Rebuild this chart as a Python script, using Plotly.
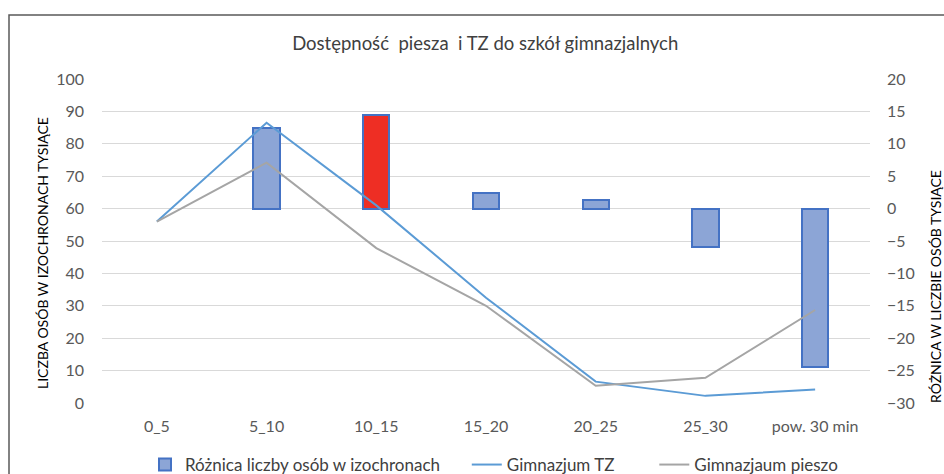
import plotly.graph_objects as go

categories = ["0_5", "5_10", "10_15", "15_20", "20_25", "25_30", "pow. 30 min"]
roznica = [None, 12.4, 14.5, 2.4, 1.3, -5.9, -24.5]
tz = [56, 86.5, 61, 32.5, 6.6, 2.2, 4.2]
pieszo = [56, 74.2, 47.8, 30, 5.3, 7.8, 28.7]
bar_colors = ["#8CA5D6", "#8CA5D6", "#EE2E24", "#8CA5D6", "#8CA5D6", "#8CA5D6", "#8CA5D6"]

FONT = "Lato"
NB = "\u00a0"
L, R, T, B = 102, 74, 79, 71
PW, PH = 944 - L - R, 474 - T - B

fig = go.Figure()
fig.add_trace(go.Bar(
    x=categories, y=roznica, name="Różnica liczby osób w izochronach" + NB * 5,
    marker=dict(color=bar_colors, line=dict(color="#4472C4", width=2)),
    width=0.24, yaxis="y",
))
fig.add_trace(go.Scatter(
    x=categories, y=tz, name="Gimnazjum TZ" + NB * 8, mode="lines",
    line=dict(color="#5B9BD5", width=2), yaxis="y2",
))
fig.add_trace(go.Scatter(
    x=categories, y=pieszo, name="Gimnazjaum pieszo", mode="lines",
    line=dict(color="#A5A5A5", width=2), yaxis="y2",
))

fig.update_layout(
    width=944, height=474,
    margin=dict(l=L, r=R, t=T, b=B, autoexpand=False),
    paper_bgcolor="white", plot_bgcolor="white",
    font=dict(family=FONT, size=16, color="#595959"),
    title=dict(text="Dostępność  piesza  i TZ do szkół gimnazjalnych",
               x=0.514, xanchor="center", xref="container",
               y=1 - 43.5 / 474, yanchor="middle", yref="container",
               font=dict(family=FONT, size=18.5, color="#404040")),
    xaxis=dict(type="category", showgrid=False, showline=False, ticks="",
               tickfont=dict(size=16, color="#595959"), ticklabelstandoff=12),
    yaxis=dict(range=[-30, 20], dtick=5, side="right", showgrid=True,
               gridcolor="#D9D9D9", gridwidth=1, zeroline=False,
               tickfont=dict(size=16, color="#595959"), ticklabelstandoff=16),
    yaxis2=dict(range=[0, 100], dtick=10, side="left", overlaying="y",
                showgrid=False, zeroline=False,
                tickfont=dict(size=16, color="#595959"), ticklabelstandoff=17),
    showlegend=True,
    legend=dict(orientation="h", x=(145 - L) / PW, xanchor="left",
                y=(T + PH - 465) / PH, yanchor="middle",
                font=dict(size=17, color="#404040"), traceorder="normal",
                itemwidth=30),
    bargap=0,
)

fig.add_annotation(text="LICZBA OSÓB W IZOCHRONACH TYSIĄCE", textangle=-90,
                   xref="paper", yref="paper", x=(43 - L) / PW, y=(T + PH - 253) / PH,
                   showarrow=False, font=dict(family=FONT, size=14, color="#000000"),
                   xanchor="center", yanchor="middle")
fig.add_annotation(text="RÓŻNICA W LICZBIE OSÓB TYSIĄCE", textangle=-90,
                   xref="paper", yref="paper", x=(935 - L) / PW, y=(T + PH - 287) / PH,
                   showarrow=False, font=dict(family=FONT, size=14, color="#000000"),
                   xanchor="center", yanchor="middle")

fig.add_shape(type="rect", xref="paper", yref="paper",
              x0=(9 - L) / PW, x1=(960 - L) / PW,
              y0=(T + PH - 490) / PH, y1=(T + PH - 15) / PH,
              line=dict(color="#595959", width=1.5), layer="below")

fig.write_html("out.html", config={"displayModeBar": False},
               post_script="document.body.style.margin='0';document.body.style.overflow='hidden';")
